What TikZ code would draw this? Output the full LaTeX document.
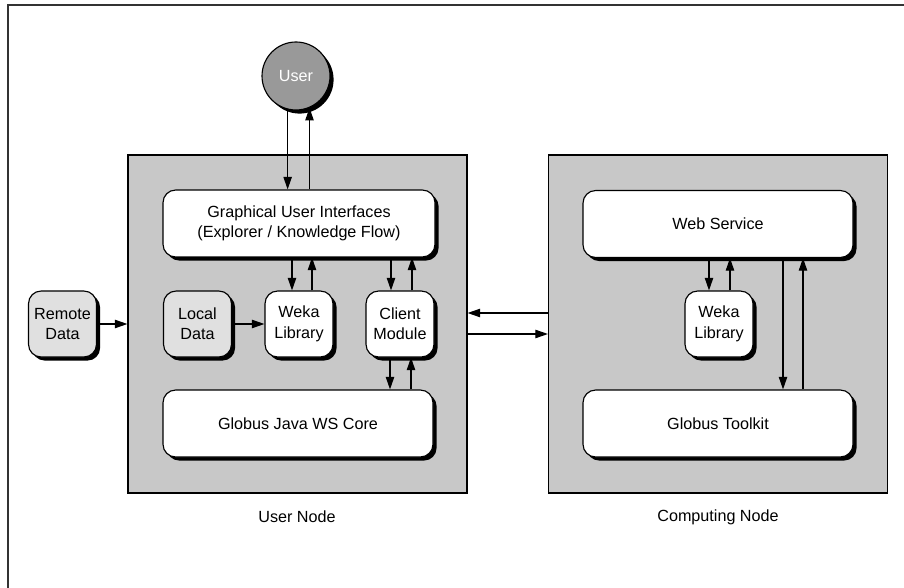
\documentclass[tikz,border=0pt]{standalone}
\usepackage{fontspec}
\setmainfont{Liberation Sans}
\usetikzlibrary{positioning,arrows.meta,shadows}
\definecolor{panelFill}{HTML}{C8C8C8}
\definecolor{dataFill}{HTML}{E0E0E0}
\definecolor{userFill}{HTML}{999999}

\begin{document}
\begin{tikzpicture}[
    box/.style={
        rectangle, draw, fill=white,
        minimum width=1.7cm, minimum height=1.65cm,
        align=center, rounded corners=9pt,
        line width=0.8pt, font=\fontsize{11.5}{14.5}\selectfont,
        drop shadow={shadow xshift=0.09cm, shadow yshift=-0.09cm, opacity=1, fill=black}
    },
    wide/.style={box, minimum width=6.75cm, minimum height=1.675cm},
    panel/.style={rectangle, draw, fill=panelFill, line width=0.8pt,
        minimum width=8.475cm, minimum height=8.45cm},
    caption/.style={font=\fontsize{11.5}{14.5}\selectfont},
    arrow/.style={-{Triangle[length=9pt, width=6pt]}, line width=0.8pt}
]
  \useasboundingbox (0,0) rectangle (22.6,-14.7);

  % Outer frame (runs off the page)
  \draw[line width=1.4pt, draw=black!80] (0.2,-15) -- (0.2,-0.125) -- (23,-0.125);

  % The two grey nodes
  \node[panel] (usernode) at (7.4375,-8.1) {};
  \node[panel] (compnode) at (17.95,-8.1) {};
  \node[caption] (userlabel) at (7.425,-12.925) {User Node};
  \node[caption] (complabel) at (17.95,-12.925) {Computing Node};

  % User
  \node[circle, draw, fill=userFill, minimum size=1.7cm, text=white, line width=0.8pt,
        font=\fontsize{11.5}{14.5}\selectfont,
        drop shadow={shadow xshift=0.09cm, shadow yshift=-0.09cm, opacity=1, fill=black}]
        (user) at (7.4,-1.9) {User};

  % User Node contents
  \node[wide, minimum width=6.8cm] (gui) at (7.475,-5.5875) {Graphical User Interfaces\\(Explorer / Knowledge Flow)};
  \node[box, fill=dataFill] (remote) at (1.5625,-8.1) {Remote\\Data};
  \node[box, fill=dataFill] (local) at (4.9375,-8.1) {Local\\Data};
  \node[box] (wekaUser) at (7.475,-8.1) {Weka\\Library};
  \node[box] (client) at (10,-8.1) {Client\\Module};
  \node[wide] (wscore) at (7.45,-10.5875) {Globus Java WS Core};

  % Computing Node contents
  \node[wide] (websvc) at (17.95,-5.6) {Web Service};
  \node[box] (wekaComp) at (17.975,-8.1) {Weka\\Library};
  \node[wide] (toolkit) at (17.95,-10.5875) {Globus Toolkit};

  % User <-> GUI
  \draw[arrow] (user.-104) -- (user.-104 |- gui.north);
  \draw[arrow] (user.-67 |- gui.north) -- (user.-67);

  % GUI <-> Weka / Client
  \draw[arrow] ([xshift=-0.175cm]gui.south) -- ([xshift=-0.175cm]wekaUser.north);
  \draw[arrow] ([xshift=0.325cm]wekaUser.north) -- ([xshift=0.325cm]gui.south);
  \draw[arrow] ([xshift=-0.225cm]client.north |- gui.south) -- ([xshift=-0.225cm]client.north);
  \draw[arrow] ([xshift=0.3cm]client.north) -- ([xshift=0.3cm]client.north |- gui.south);

  % Client <-> Globus core
  \draw[arrow] ([xshift=-0.25cm]client.south) -- ([xshift=-0.25cm]client.south |- wscore.north);
  \draw[arrow] ([xshift=0.275cm]client.south |- wscore.north) -- ([xshift=0.275cm]client.south);

  % Data
  \draw[arrow] (remote) -- (remote -| usernode.west);
  \draw[arrow] (local) -- (wekaUser);

  % Between the nodes
  \draw[arrow] ([yshift=0.275cm]compnode.west) -- ([yshift=0.275cm]usernode.east);
  \draw[arrow] ([yshift=-0.25cm]usernode.east) -- ([yshift=-0.25cm]compnode.west);

  % Web Service <-> Weka / Toolkit
  \draw[arrow] ([xshift=-0.225cm]websvc.south) -- ([xshift=-0.225cm]websvc.south |- wekaComp.north);
  \draw[arrow] ([xshift=0.3cm]websvc.south |- wekaComp.north) -- ([xshift=0.3cm]websvc.south);
  \draw[arrow] ([xshift=1.625cm]websvc.south) -- ([xshift=1.625cm]toolkit.north);
  \draw[arrow] ([xshift=2.125cm]toolkit.north) -- ([xshift=2.125cm]websvc.south);

\end{tikzpicture}
\end{document}
